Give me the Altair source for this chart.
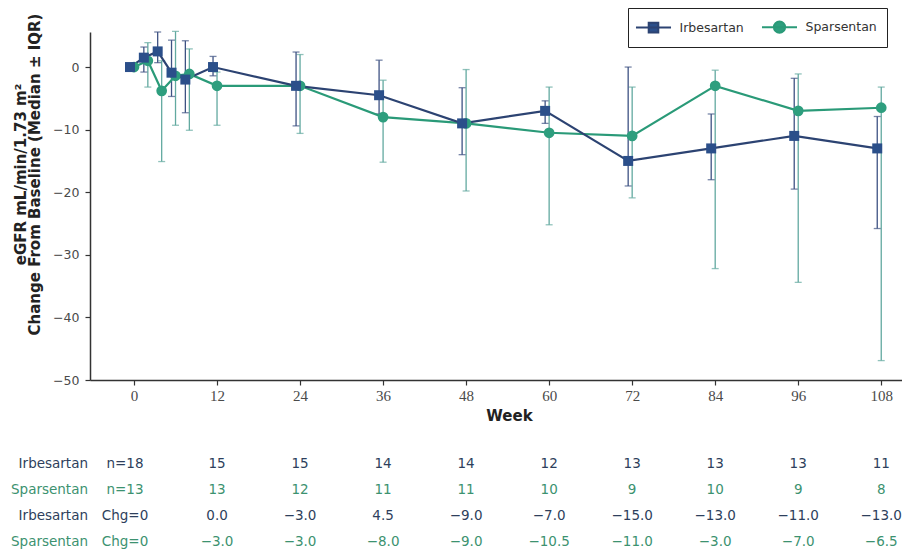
import altair as alt
import pandas as pd

# ---------------- data ----------------
series_names = ["Irbesartan", "Sparsentan"]
weeks = [0, 2, 4, 6, 8, 12, 24, 36, 48, 60, 72, 84, 96, 108]

irb_median = [0.0, 1.5, 2.5, -0.9, -2.0, 0.0, -3.0, -4.5, -9.0, -7.0, -15.0, -13.0, -11.0, -13.0]
irb_q1 = [None, -0.8, 0.7, -4.7, -7.3, -1.4, -9.4, -7.5, -14.0, -9.0, -19.0, -18.0, -19.5, -25.8]
irb_q3 = [None, 3.2, 5.6, 4.3, 4.2, 1.7, 2.4, 1.1, -3.3, -5.4, 0.0, -7.5, -1.8, -7.9]

spa_median = [0.0, 1.0, -3.8, -1.4, -1.1, -3.0, -3.0, -8.0, -9.0, -10.5, -11.0, -3.0, -7.0, -6.5]
spa_q1 = [None, -3.2, -15.1, -9.3, -10.1, -9.3, -10.6, -15.2, -19.8, -25.2, -20.9, -32.2, -34.4, -46.9]
spa_q3 = [None, 3.9, 1.0, 5.7, 2.9, -0.8, 2.0, -2.1, -0.4, -3.2, -3.2, -0.5, -1.1, -3.2]

table_weeks = [0, 12, 24, 36, 48, 60, 72, 84, 96, 108]
irb_n = [18, 15, 15, 14, 14, 12, 13, 13, 13, 11]
spa_n = [13, 13, 12, 11, 11, 10, 9, 10, 9, 8]
irb_chg = [0, 0.0, -3.0, 4.5, -9.0, -7.0, -15.0, -13.0, -11.0, -13.0]
spa_chg = [0, -3.0, -3.0, -8.0, -9.0, -10.5, -11.0, -3.0, -7.0, -6.5]

x_ticks = [0, 12, 24, 36, 48, 60, 72, 84, 96, 108]
y_ticks = [0, -10, -20, -30, -40, -50]

# ---------------- styles ----------------
BLUE_LINE, BLUE_PT, BLUE_BAR = "#2C4372", "#2B4F8A", "#3E5283"
GREEN_LINE, GREEN_PT, GREEN_BAR = "#2A9A78", "#2E9E7E", "#62A9A0"
BLUE_TXT, GREEN_TXT = "#2E3F5C", "#3C9270"

style = {
    "Irbesartan": dict(line=BLUE_LINE, pt=BLUE_PT, bar=BLUE_BAR, shape="square", size=100, dx=-4),
    "Sparsentan": dict(line=GREEN_LINE, pt=GREEN_PT, bar=GREEN_BAR, shape="circle", size=115, dx=0),
}

rows = []
for s, med, lo, hi in [("Irbesartan", irb_median, irb_q1, irb_q3),
                       ("Sparsentan", spa_median, spa_q1, spa_q3)]:
    for w, m, l, h in zip(weeks, med, lo, hi):
        rows.append(dict(series=s, week=w, median=m, q1=l, q3=h))
df = pd.DataFrame(rows)


def fmt_chg(v):
    return f"{v:.1f}".replace("-", "\u2212")


trows = []
for key, name, vals, kind in [("r1", "Irbesartan", irb_n, "n"), ("r2", "Sparsentan", spa_n, "n"),
                              ("r3", "Irbesartan", irb_chg, "c"), ("r4", "Sparsentan", spa_chg, "c")]:
    for i, (w, v) in enumerate(zip(table_weeks, vals)):
        if i == 0:
            txt = f"n={v}" if kind == "n" else f"Chg={v}"
        else:
            txt = str(v) if kind == "n" else fmt_chg(v)
        trows.append(dict(row=key, name=name, week=w, text=txt, first=(i == 0)))
tdf = pd.DataFrame(trows)

# row layout of the table under the axis (pixel offset from plot top, colour)
row_layout = [("r1", 432, BLUE_TXT), ("r2", 458, GREEN_TXT), ("r3", 484, BLUE_TXT), ("r4", 510, GREEN_TXT)]

# ---------------- scales / axes ----------------
x_scale = alt.Scale(domain=[-6.36, 111.0], nice=False, zero=False)
y_scale = alt.Scale(domain=[-50, 5.6], nice=False, zero=False)

x_axis = alt.Axis(values=x_ticks, title="Week", grid=False, orient="bottom",
                  labelFont="Liberation Sans Narrow", labelFontSize=15, labelColor="#4a4a4a",
                  labelPadding=3, tickSize=5, tickColor="#333", tickWidth=1.2,
                  domainColor="#333", domainWidth=1.5,
                  titleFont="DejaVu Sans", titleFontWeight="bold", titleFontSize=15, titleColor="#222",
                  titleX=419, titleY=35, titleBaseline="middle", titleAnchor="start", titleAlign="center")
y_axis = alt.Axis(values=y_ticks, grid=False, orient="left",
                  title=["eGFR mL/min/1.73 m\u00b2", "Change From  Baseline  (Median \u00b1 IQR)"],
                  labelFont="DejaVu Sans", labelFontSize=12.5, labelColor="#4a4a4a",
                  labelPadding=6, tickSize=5, tickColor="#333", tickWidth=1.2,
                  domainColor="#333", domainWidth=1.5,
                  titleFont="DejaVu Sans", titleFontWeight="bold", titleFontSize=15, titleColor="#222",
                  titleAngle=-90, titleX=-70, titleY=142, titleBaseline="middle", titleAlign="center",
                  titleAnchor="start", titleLineHeight=14)

X = alt.X("week:Q", scale=x_scale, axis=x_axis)

base = alt.Chart(df)

bars, lines, points = [], [], []
for s in ["Sparsentan", "Irbesartan"]:
    st = style[s]
    sel = base.transform_filter(alt.datum.series == s)
    err = sel.transform_filter("isValid(datum.q1)")
    bars.append(err.mark_rule(color=st["bar"], strokeWidth=1.3, xOffset=st["dx"]).encode(
        x=X, y=alt.Y("q1:Q", scale=y_scale, axis=y_axis), y2="q3:Q"))
    for f in ["q1", "q3"]:
        bars.append(err.mark_tick(color=st["bar"], orient="horizontal", size=7, thickness=1.3,
                                  xOffset=st["dx"]).encode(
            x=X, y=alt.Y(f"{f}:Q", scale=y_scale, axis=y_axis)))
    lines.append(sel.mark_line(color=st["line"], strokeWidth=2.2, xOffset=st["dx"]).encode(
        x=X, y=alt.Y("median:Q", scale=y_scale, axis=y_axis)))
    points.append(sel.mark_point(shape=st["shape"], filled=True, color=st["pt"], size=st["size"],
                                 opacity=1, xOffset=st["dx"]).encode(
        x=X, y=alt.Y("median:Q", scale=y_scale, axis=y_axis)))

# legend (line-through-marker symbols, drawn from the legend of an empty layer)
legend_paths = ["M-2.19,0H2.19M-0.6,-0.6H0.6V0.6H-0.6Z",
                "M-2.19,0H2.19M0.7,0A0.7,0.7,0,1,1,-0.7,0A0.7,0.7,0,1,1,0.7,0Z"]
leg = alt.Legend(title=None, orient="none", legendX=538, legendY=-24, direction="horizontal",
                 strokeColor="#222", padding=10, symbolSize=256, symbolStrokeWidth=2,
                 symbolOffset=6.5, labelFont="DejaVu Sans", labelFontSize=12.5, labelColor="#333",
                 columnPadding=13, labelOffset=17, symbolOpacity=1)
legend_layer = base.transform_filter("false").mark_point(filled=True, strokeWidth=2, opacity=1).encode(
    x=X, y=alt.Y("median:Q", scale=y_scale, axis=y_axis),
    color=alt.Color("series:N", scale=alt.Scale(domain=series_names, range=[BLUE_PT, GREEN_PT]), legend=leg),
    stroke=alt.Stroke("series:N", scale=alt.Scale(domain=series_names, range=[BLUE_LINE, GREEN_LINE]), legend=leg),
    shape=alt.Shape("series:N", scale=alt.Scale(domain=series_names, range=legend_paths), legend=leg),
)

# ---------------- table under the axis ----------------
tbase = alt.Chart(tdf)
tlayers = []
for key, ypix, col in row_layout:
    tsel = tbase.transform_filter(alt.datum.row == key)
    tlayers.append(tsel.transform_filter("!datum.first").mark_text(
        font="DejaVu Sans", fontSize=13.5, color=col, baseline="middle", align="center").encode(
        x=X, y=alt.value(ypix), text="text:N"))
    tlayers.append(tsel.transform_filter("datum.first").mark_text(
        font="DejaVu Sans", fontSize=13.5, color=col, baseline="middle", align="center", dx=-9).encode(
        x=X, y=alt.value(ypix), text="text:N"))
    tlayers.append(tsel.transform_filter("datum.first").mark_text(
        font="DejaVu Sans", fontSize=13.5, color=col, baseline="middle", align="right").encode(
        x=alt.value(-2), y=alt.value(ypix), text="name:N"))

chart = alt.layer(*bars, *lines, *points, legend_layer, *tlayers).properties(
    width=812, height=348, background="white",
    padding={"left": 82, "top": 24, "right": 0, "bottom": 172},
    autosize=alt.AutoSizeParams(type="none"),
).configure_view(stroke=None, strokeWidth=0).configure_axisTop(disable=True).configure_axisRight(
    disable=True)

chart.save("out.html", embed_options={"renderer": "svg", "actions": False})
